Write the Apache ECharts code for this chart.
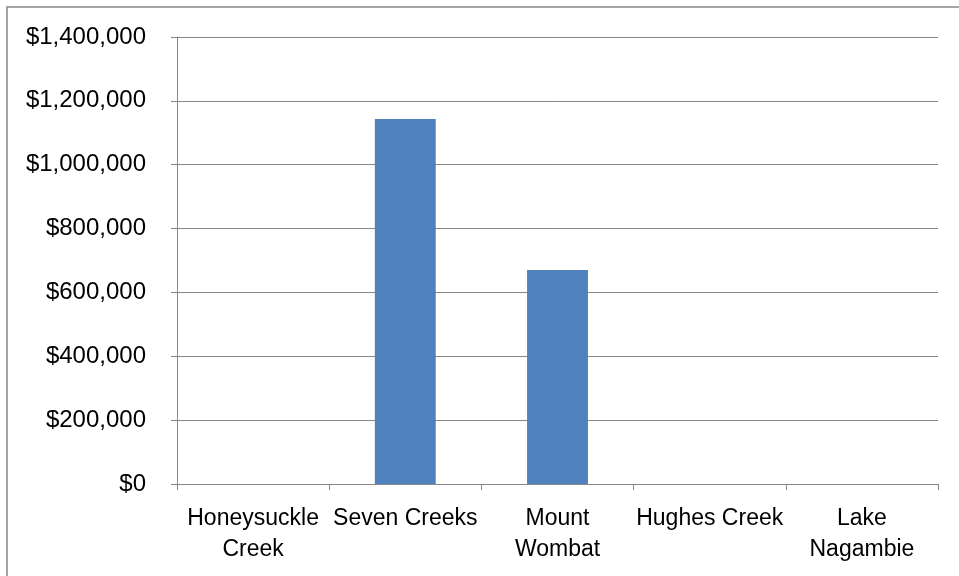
<!DOCTYPE html>
<html>
<head>
<meta charset="utf-8">
<title>Projects</title>
<script src="https://cdn.jsdelivr.net/npm/echarts@6/dist/echarts.min.js"></script>
<style>
  html, body { margin: 0; padding: 0; background: #fff; }
  #main { width: 959px; height: 576px; }
</style>
</head>
<body>
<div id="main"></div>
<script>
var categories = ['Honeysuckle\nCreek', 'Seven Creeks', 'Mount\nWombat', 'Hughes Creek', 'Lake\nNagambie'];
var values = [0, 1143000, 670000, 0, 0];
var yTicks = [0, 200000, 400000, 600000, 800000, 1000000, 1200000, 1400000];

var fmt = function (v) {
    return '$' + v.toString().replace(/\B(?=(\d{3})+(?!\d))/g, ',');
};

var chart = echarts.init(document.getElementById('main'));
chart.setOption({
    animation: false,
    textStyle: { fontFamily: 'Liberation Sans' },
    graphic: [{
        type: 'rect',
        shape: { x: 7, y: 7, width: 1000, height: 1000 },
        style: { fill: 'none', stroke: '#868686', lineWidth: 1.5 },
        silent: true
    }],
    grid: { left: 177, top: 37, right: 21, bottom: 92 },
    xAxis: {
        type: 'category',
        data: categories,
        axisLine: { lineStyle: { color: '#868686', width: 1 } },
        axisTick: { show: true, length: 6, lineStyle: { color: '#868686' } },
        axisLabel: { color: '#000', fontSize: 23, lineHeight: 31, margin: 19, interval: 0 }
    },
    yAxis: {
        type: 'value',
        min: yTicks[0],
        max: yTicks[yTicks.length - 1],
        interval: 200000,
        axisLine: { show: true, lineStyle: { color: '#868686', width: 1 } },
        axisTick: { show: true, length: 6, lineStyle: { color: '#868686' } },
        splitLine: { lineStyle: { color: '#868686', width: 1 } },
        axisLabel: { color: '#000', fontSize: 24, margin: 31, formatter: fmt }
    },
    series: [{
        type: 'bar',
        data: values,
        barWidth: '40%',
        itemStyle: { color: '#4F81BD' }
    }]
});
</script>
</body>
</html>
